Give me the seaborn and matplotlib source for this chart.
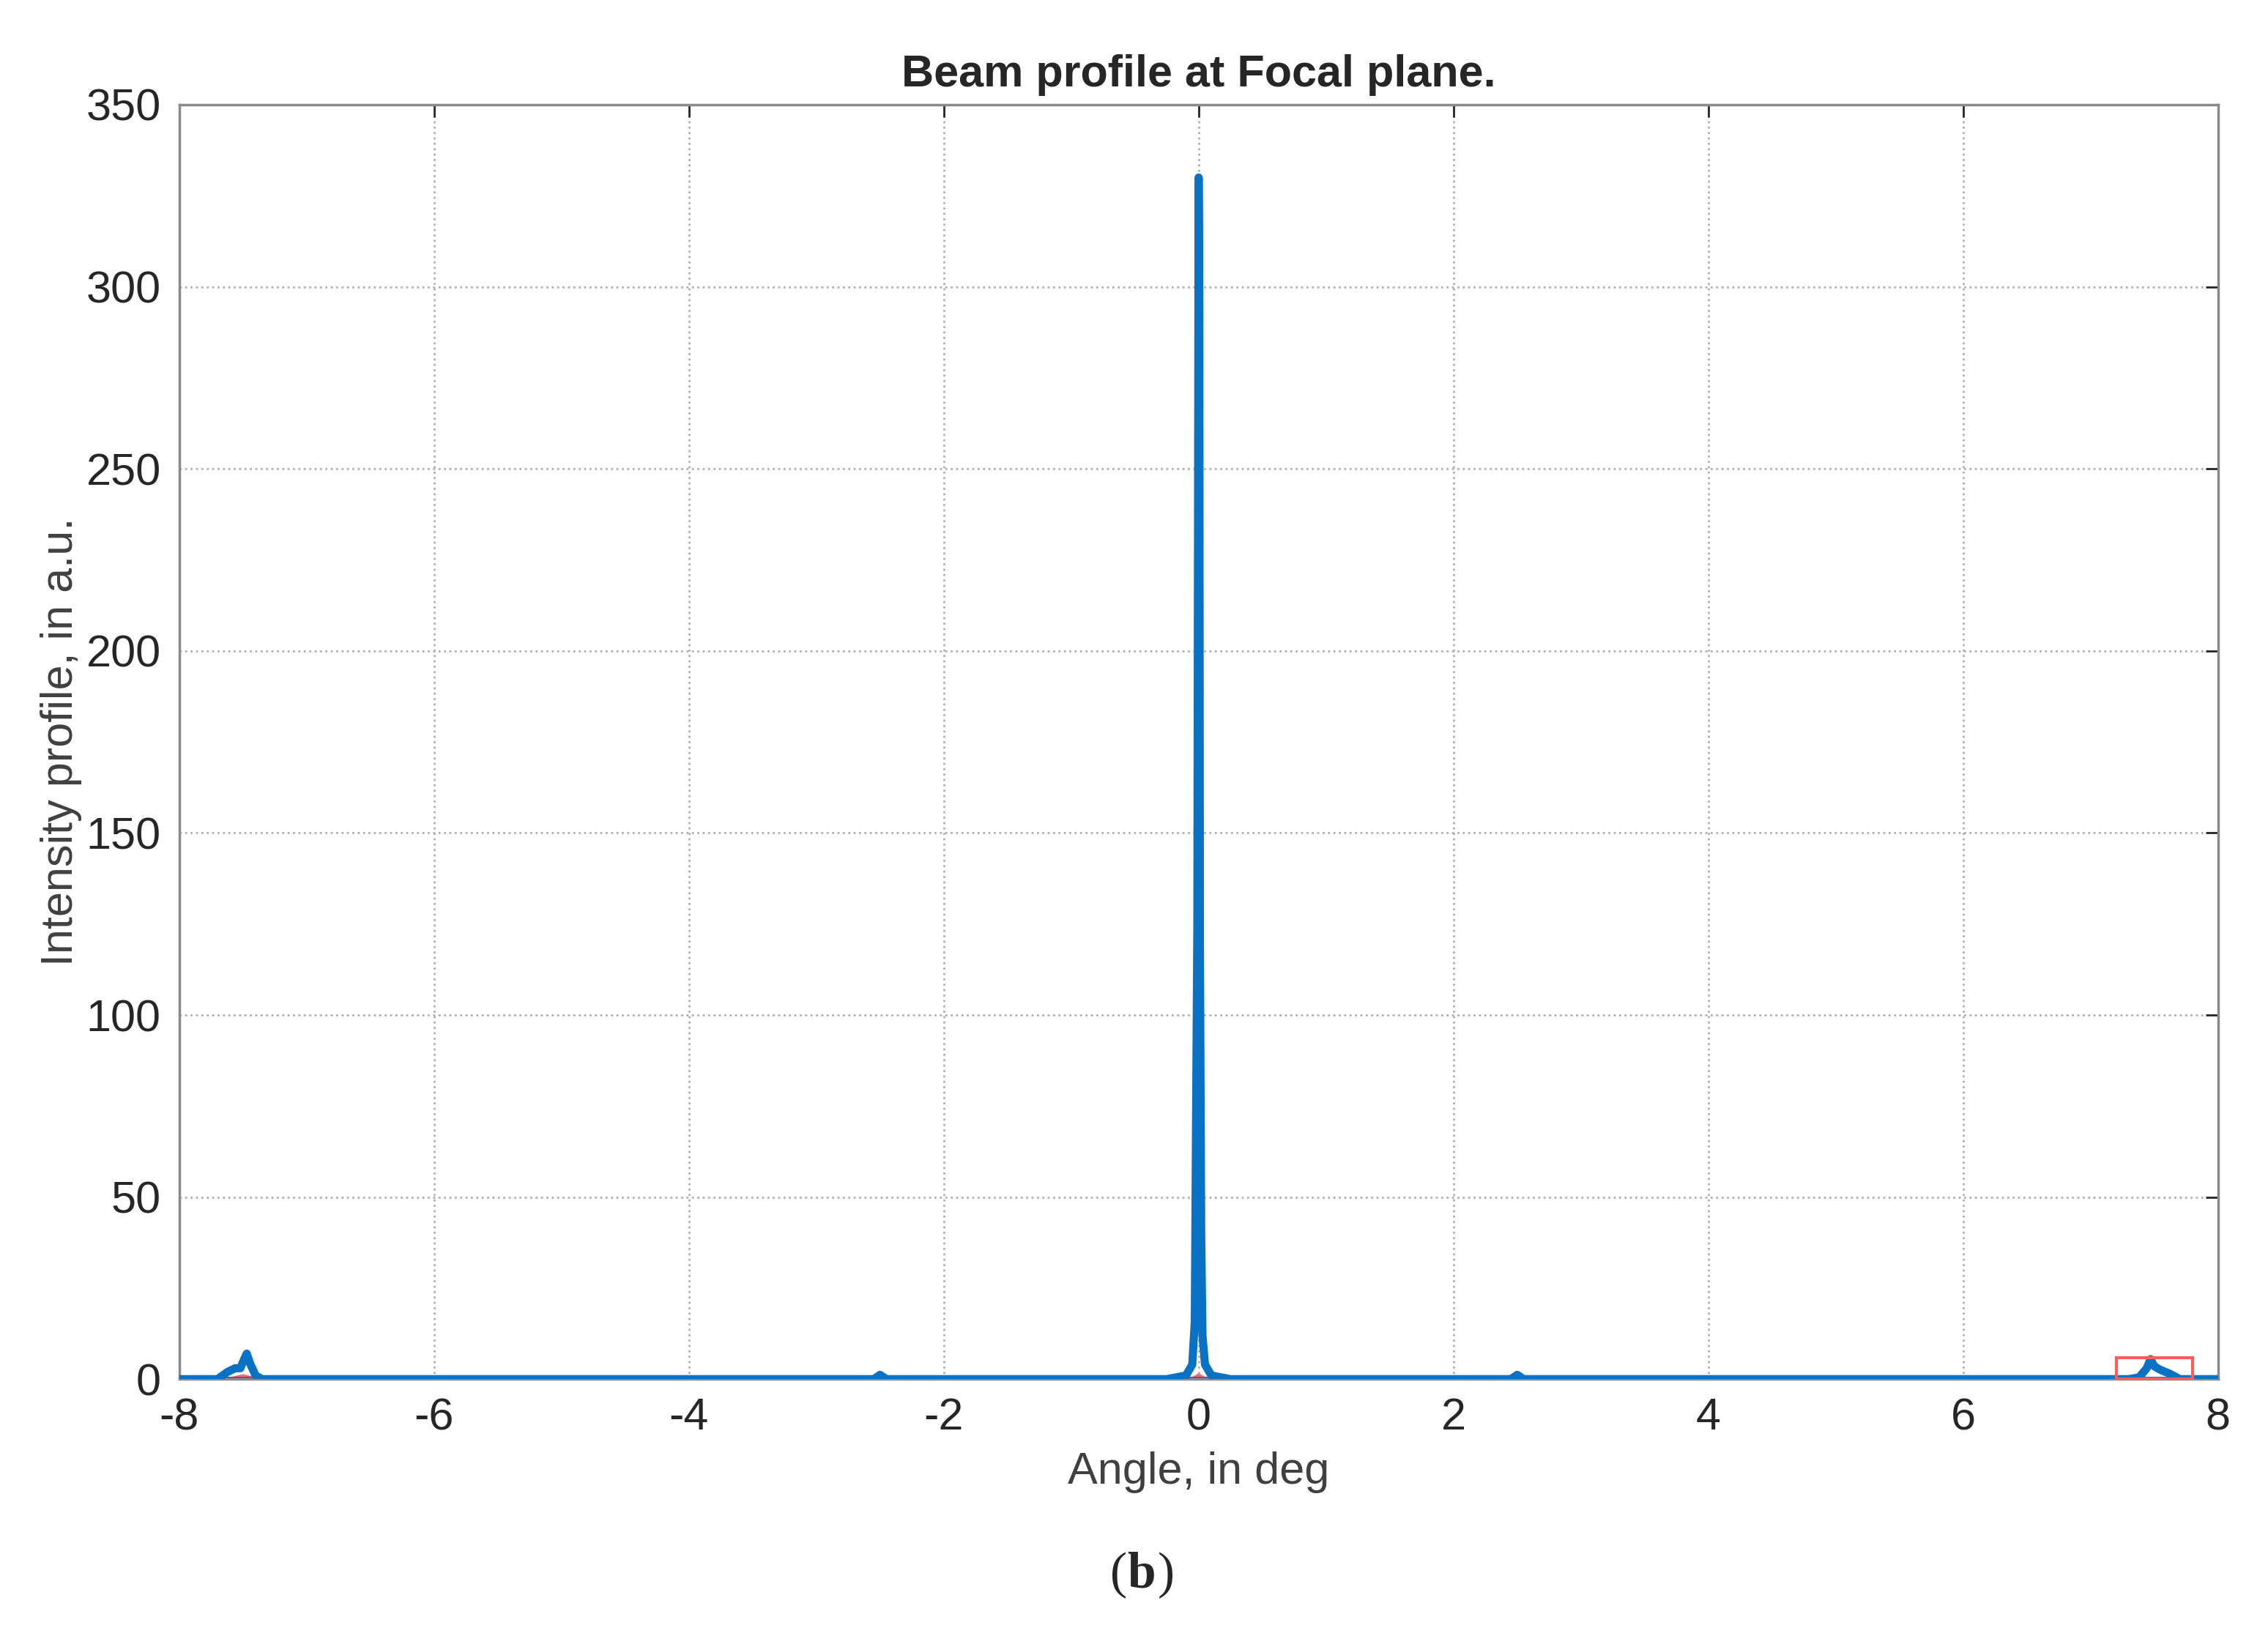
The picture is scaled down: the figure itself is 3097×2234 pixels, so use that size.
import numpy as np
import pandas as pd
import matplotlib
matplotlib.use("Agg")
import matplotlib.pyplot as plt
import seaborn as sns
from matplotlib.patches import Rectangle

# === Data ===
angle = [-8.0, -7.7, -7.62, -7.56, -7.52, -7.49, -7.47, -7.44, -7.40, -7.35,
         -2.55, -2.5, -2.45,
         -0.25, -0.1, -0.05, -0.03, -0.02, -0.01, 0.0, 0.005, 0.01, 0.02, 0.03, 0.05, 0.1, 0.25,
         2.45, 2.5, 2.55,
         7.3, 7.38, 7.44, 7.47, 7.50, 7.55, 7.62, 7.70, 8.0]
intensity = [0.0, 0.0, 2.0, 3.0, 3.0, 5.5, 7.0, 4.0, 1.0, 0.0,
             0.0, 1.2, 0.0,
             0.0, 1.0, 4.0, 16.0, 72.0, 125.0, 330.0, 300.0, 120.0, 40.0, 12.0, 4.0, 1.0, 0.0,
             0.0, 1.2, 0.0,
             0.0, 0.5, 3.0, 5.5, 3.5, 2.5, 1.5, 0.0, 0.0]
red_angle = [-8.0, -7.6, -7.5, -7.4, -0.05, 0.0, 0.05, 8.0]
red_intensity = [0.0, 0.0, 0.8, 0.0, 0.0, 1.0, 0.0, 0.0]

df = pd.DataFrame({"angle": angle, "intensity": intensity})
df_red = pd.DataFrame({"angle": red_angle, "intensity": red_intensity})

sns.set_style("white")
plt.rcParams['font.family'] = ['Liberation Sans', 'DejaVu Sans']
plt.rcParams['axes.unicode_minus'] = False

fig = plt.figure(figsize=(30.97, 22.34), dpi=100)
ax = fig.add_axes([0.079, 0.157, 0.899, 0.779])

sns.lineplot(data=df_red, x="angle", y="intensity", ax=ax, color="#ff6b6b", linewidth=4)
ax.axhline(0, color="#5a4a9a", linewidth=5, zorder=2)
sns.lineplot(data=df, x="angle", y="intensity", ax=ax, color="#0a72c4", linewidth=8, zorder=3)
ax.add_patch(Rectangle((7.2, 0), 0.6, 5.8, fill=False, edgecolor="#ff5c5c", linewidth=3, zorder=4))

ax.set_xlim(-8, 8)
ax.set_ylim(0, 350)
ax.set_xticks(np.arange(-8, 9, 2))
ax.set_yticks(np.arange(0, 351, 50))
ax.grid(True, linestyle=":", color="#b0b0b0", linewidth=2)
ax.tick_params(axis="both", labelsize=44, colors="#262626", length=12, width=2,
               direction="in", top=True, right=True, pad=18)
for s in ax.spines.values():
    s.set_color("#8a8a8a")
    s.set_linewidth(2.5)

ax.set_title("Beam profile at Focal plane.", fontsize=44, fontweight="bold", pad=18)
ax.set_xlabel("Angle, in deg", fontsize=44, color="#404040", labelpad=12)
ax.set_ylabel("Intensity profile, in a.u.", fontsize=44, color="#404040", labelpad=4)

fig.text(0.497, 0.023, "(", fontsize=50, family="Liberation Serif", ha="right", va="bottom")
fig.text(0.497, 0.023, "b", fontsize=50, family="Liberation Serif", fontweight="bold", ha="left", va="bottom")
fig.text(0.5105, 0.023, ")", fontsize=50, family="Liberation Serif", ha="left", va="bottom")

fig.savefig("out.png", dpi=100)
